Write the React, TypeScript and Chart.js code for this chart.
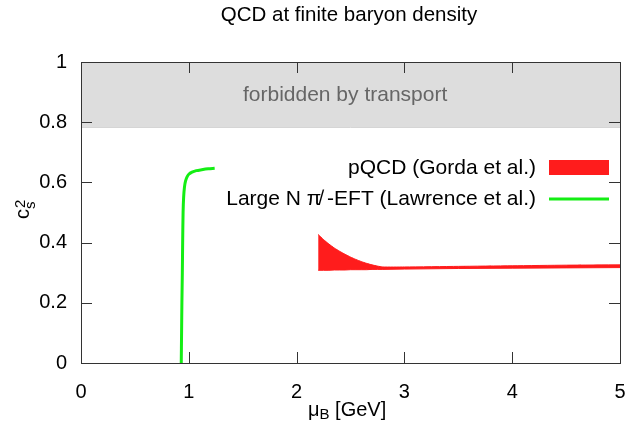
import React, { useEffect, useRef } from "react";
import { Chart, registerables } from "chart.js";

Chart.register(...registerables);

const xTicks = [0, 1, 2, 3, 4, 5];
const yTicks = [0, 0.2, 0.4, 0.6, 0.8, 1];

const forbiddenX = [0, 5];
const forbiddenTop = [1, 1];
const forbiddenBottom = [0.783, 0.783];

const muGreen = [0.93, 0.933, 0.936, 0.94, 0.943, 0.947, 0.952, 0.96, 0.97, 0.985, 1.0, 1.03, 1.07, 1.12, 1.18, 1.24];
const csGreen = [0.0, 0.1, 0.2, 0.3, 0.4, 0.5, 0.55, 0.585, 0.605, 0.619, 0.627, 0.634, 0.639, 0.642, 0.645, 0.647];

const muPqcd = [2.2, 2.25, 2.3, 2.35, 2.4, 2.45, 2.5, 2.55, 2.6, 2.65, 2.7, 2.75, 2.8, 3.0, 3.5, 4.0, 4.5, 5.0];
const csPqcdHigh = [0.427, 0.41, 0.395, 0.382, 0.371, 0.361, 0.352, 0.344, 0.337, 0.331, 0.326, 0.322, 0.319, 0.319, 0.321, 0.323, 0.325, 0.326];
const csPqcdLow = [0.308, 0.308, 0.308, 0.309, 0.309, 0.309, 0.31, 0.31, 0.31, 0.31, 0.311, 0.311, 0.311, 0.312, 0.314, 0.315, 0.316, 0.317];

const title = "QCD at finite baryon density";
const bandLabel = "forbidden by transport";
const legendPqcd = "pQCD (Gorda et al.)";
const legendEft = "Large N \u03C0\u0338 -EFT (Lawrence et al.)";

const FONT = "'Liberation Sans', Arial, Helvetica, sans-serif";
const RED = "#ff1c1c";
const GREEN = "#14ee14";

const pts = (xs: number[], ys: number[]) => xs.map((x, i) => ({ x, y: ys[i] }));

export default function App() {
  const ref = useRef<HTMLCanvasElement | null>(null);

  useEffect(() => {
    document.body.style.margin = "0";
    const canvas = ref.current;
    if (!canvas) return;

    const decor = {
      id: "decor",
      afterDraw(chart: any) {
        const ctx = chart.ctx;
        const ca = chart.chartArea;
        const xs = chart.scales.x;
        const ys = chart.scales.y;
        ctx.save();
        // band label
        ctx.fillStyle = "#666666";
        ctx.font = `21px ${FONT}`;
        ctx.textAlign = "center";
        ctx.textBaseline = "middle";
        ctx.fillText(bandLabel, xs.getPixelForValue(2.45), ys.getPixelForValue(0.891));

        // inward ticks
        ctx.strokeStyle = "#333333";
        ctx.lineWidth = 1;
        const tl = 11;
        ctx.beginPath();
        xTicks.forEach((v) => {
          const px = Math.round(xs.getPixelForValue(v)) + 0.5;
          ctx.moveTo(px, ca.bottom);
          ctx.lineTo(px, ca.bottom - tl);
          ctx.moveTo(px, ca.top);
          ctx.lineTo(px, ca.top + tl);
        });
        yTicks.forEach((v) => {
          const py = Math.round(ys.getPixelForValue(v)) + 0.5;
          ctx.moveTo(ca.left, py);
          ctx.lineTo(ca.left + tl, py);
          ctx.moveTo(ca.right, py);
          ctx.lineTo(ca.right - tl, py);
        });
        ctx.stroke();
        // border
        ctx.strokeRect(Math.round(ca.left) + 0.5, Math.round(ca.top) + 0.5, Math.round(ca.right - ca.left), Math.round(ca.bottom - ca.top));

        // title
        ctx.fillStyle = "#000";
        ctx.font = `20.5px ${FONT}`;
        ctx.textAlign = "center";
        ctx.textBaseline = "middle";
        ctx.fillText(title, 349, 15);

        // legend
        ctx.font = `21px ${FONT}`;
        ctx.textAlign = "right";
        ctx.fillText(legendPqcd, 536, 168);
        ctx.fillText(legendEft, 536, 199);
        ctx.fillStyle = RED;
        ctx.fillRect(549, 160, 60, 15);
        ctx.strokeStyle = GREEN;
        ctx.lineWidth = 3;
        ctx.beginPath();
        ctx.moveTo(549, 199);
        ctx.lineTo(609, 199);
        ctx.stroke();

        // x axis title
        ctx.fillStyle = "#000";
        ctx.textAlign = "left";
        ctx.textBaseline = "alphabetic";
        ctx.font = `20px ${FONT}`;
        let x0 = 308;
        ctx.fillText("\u03BC", x0, 416);
        x0 += ctx.measureText("\u03BC").width;
        ctx.font = `15px ${FONT}`;
        ctx.fillText("B", x0, 419);
        x0 += ctx.measureText("B").width;
        ctx.font = `20px ${FONT}`;
        ctx.fillText(" [GeV]", x0, 416);

        // y axis title
        ctx.translate(29, 219);
        ctx.rotate(-Math.PI / 2);
        ctx.font = `20px ${FONT}`;
        ctx.fillText("c", 0, 0);
        const wc = ctx.measureText("c").width;
        ctx.font = `15px ${FONT}`;
        ctx.fillText("s", wc, 6);
        ctx.fillText("2", wc + 1, -4);
        ctx.restore();
      },
    };

    const chart = new Chart(canvas, {
      type: "line",
      data: {
        datasets: [
          {
            label: "eft",
            data: pts(muGreen, csGreen),
            borderColor: GREEN,
            borderWidth: 3,
            pointRadius: 0,
            fill: false,
            tension: 0.3,
            order: 0,
          },
          {
            label: "pqcdHigh",
            data: pts(muPqcd, csPqcdHigh),
            borderColor: RED,
            backgroundColor: RED,
            borderWidth: 1,
            pointRadius: 0,
            fill: "+1",
            tension: 0.2,
            order: 1,
          },
          {
            label: "pqcdLow",
            data: pts(muPqcd, csPqcdLow),
            borderColor: RED,
            borderWidth: 1,
            pointRadius: 0,
            fill: false,
            order: 2,
          },
          {
            label: "forbiddenTop",
            data: pts(forbiddenX, forbiddenTop),
            borderWidth: 0,
            borderColor: "rgba(0,0,0,0)",
            backgroundColor: "#dddddd",
            pointRadius: 0,
            fill: "+1",
            order: 3,
          },
          {
            label: "forbiddenBottom",
            data: pts(forbiddenX, forbiddenBottom),
            borderWidth: 1,
            borderColor: "#c8c8c8",
            pointRadius: 0,
            fill: false,
            order: 4,
          },
        ],
      },
      options: {
        animation: false,
        responsive: false,
        devicePixelRatio: 1,
        layout: { padding: { top: 62, right: 19, left: 0, bottom: 0 } },
        plugins: {
          legend: { display: false },
          title: { display: false },
          tooltip: { enabled: false },
        },
        scales: {
          x: {
            type: "linear",
            min: 0,
            max: 5,
            afterFit: (s: any) => {
              s.height = 61;
              s.paddingLeft = 0;
              s.paddingRight = 0;
            },
            afterBuildTicks: (s: any) => {
              s.ticks = xTicks.map((v) => ({ value: v }));
            },
            grid: { display: false, drawTicks: false },
            border: { display: false },
            ticks: {
              padding: 17,
              color: "#000",
              font: { family: FONT, size: 20 },
              maxRotation: 0,
              callback: (v: any) => String(v),
            },
          },
          y: {
            type: "linear",
            min: 0,
            max: 1,
            afterFit: (s: any) => {
              s.width = 81;
              s.paddingTop = 0;
              s.paddingBottom = 0;
            },
            afterBuildTicks: (s: any) => {
              s.ticks = yTicks.map((v) => ({ value: v }));
            },
            grid: { display: false, drawTicks: false },
            border: { display: false },
            ticks: {
              padding: 14,
              color: "#000",
              font: { family: FONT, size: 20 },
              callback: (v: any) => String(v),
            },
          },
        },
      },
      plugins: [decor],
    });

    return () => chart.destroy();
  }, []);

  return (
    <div style={{ width: 639, height: 424 }}>
      <canvas ref={ref} width={639} height={424} style={{ display: "block" }} />
    </div>
  );
}
